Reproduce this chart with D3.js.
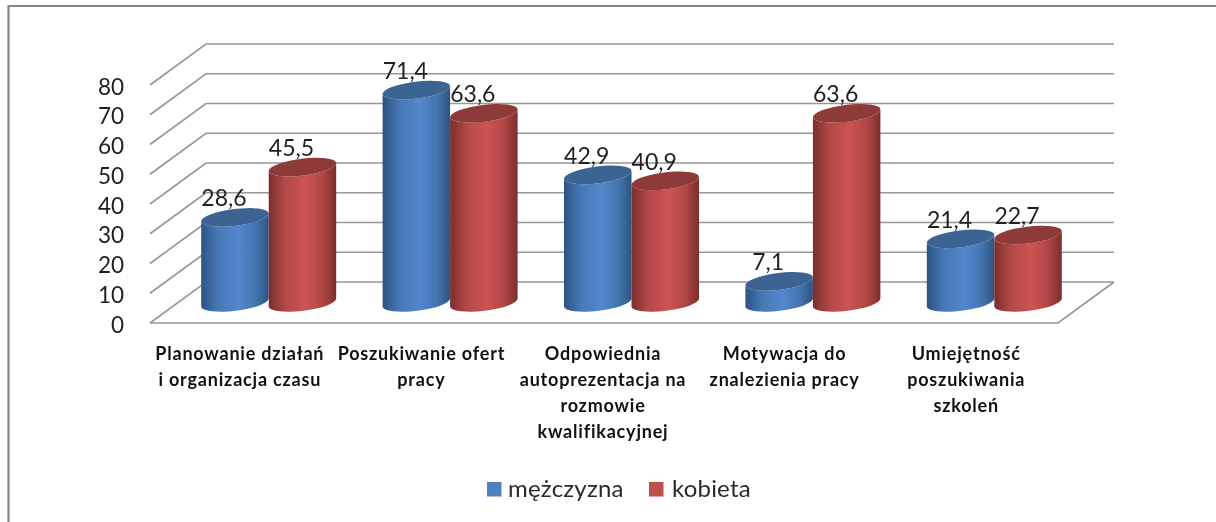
<!DOCTYPE html>
<html>
<head>
<meta charset="utf-8">
<script src="https://cdn.jsdelivr.net/npm/d3@7"></script>
<style>
html,body{margin:0;padding:0;background:#fff;overflow:hidden}
svg{display:block;font-family:Lato,"Open Sans",sans-serif;filter:blur(.45px)}
</style>
</head>
<body>
<div id="chart"></div>
<script>
var categories = ["Planowanie działań|i organizacja czasu", "Poszukiwanie ofert|pracy", "Odpowiednia|autoprezentacja na|rozmowie|kwalifikacyjnej", "Motywacja do|znalezienia pracy", "Umiejętność|poszukiwania|szkoleń"];
var seriesNames = ["mężczyzna", "kobieta"];
var men = [28.6, 71.4, 42.9, 7.1, 21.4];
var women = [45.5, 63.6, 40.9, 63.6, 22.7];
var yTicks = [0, 10, 20, 30, 40, 50, 60, 70, 80];

var width = 1216, height = 522;
var depthX = 56, depthY = -41;//przesuniecie tylnej sciany
var frontLeft = 150, frontRight = 1058, rx = 34, ry = 8.4, tilt = -7;

var colors = {
    "mężczyzna": {edge: "#2c5482", mid: "#5388cc", top: "#3b6493", legend: "#4f81bd"},
    "kobieta": {edge: "#7b2e2c", mid: "#cc5452", top: "#8e3a38", legend: "#c0504d"}
};

var svg = d3.select("#chart").append("svg").attr("width", width).attr("height", height);

var defs = svg.append("defs");
seriesNames.forEach(function(name, i) {
    var g = defs.append("linearGradient").attr("id", "cyl" + i);
    g.append("stop").attr("offset", "0%").attr("stop-color", colors[name].edge);
    g.append("stop").attr("offset", "25%").attr("stop-color", d3.interpolateRgb(colors[name].edge, colors[name].mid)(.7));
    g.append("stop").attr("offset", "55%").attr("stop-color", colors[name].mid);
    g.append("stop").attr("offset", "80%").attr("stop-color", d3.interpolateRgb(colors[name].edge, colors[name].mid)(.65));
    g.append("stop").attr("offset", "100%").attr("stop-color", colors[name].edge);
});

// ramka
svg.append("path").attr("d", "M8.5 522V6H1216").attr("fill", "none").attr("stroke", "#868686").attr("stroke-width", 2.2);

var y = d3.scaleLinear().domain([0, 80]).range([323, 85]);
var xFront = d3.scaleBand().domain(categories).range([frontLeft, frontRight]);
var xMid = d3.scaleBand().domain(categories).range([178, 1085]);
var xSeries = d3.scaleBand().domain(seriesNames).range([0, 135]);

// siatka
var grid = svg.append("g").attr("fill", "none").attr("stroke", "#979797").attr("stroke-width", 1.7);
grid.selectAll("path").data(yTicks).enter().append("path")
    .attr("d", function(d) {
        return "M" + frontLeft + " " + y(d)
            + " L" + (frontLeft + depthX) + " " + (y(d) + depthY)
            + " L" + (frontRight + depthX) + " " + (y(d) + depthY);
    });
grid.append("path").attr("d", "M" + frontLeft + " " + y(0) + " L" + frontRight + " " + y(0) + " L" + (frontRight + depthX) + " " + (y(0) + depthY));

// os Y
var yAxis = svg.append("g").attr("transform", "translate(124,0)")
    .call(d3.axisLeft(y).tickValues(yTicks).tickSize(0).tickPadding(0));
yAxis.select(".domain").remove();
yAxis.selectAll("text").attr("font-family", "Lato").attr("font-size", 22.5).attr("fill", "#1f1f1f").attr("dy", "0.4em");

// cylindry stoja w polowie glebokosci
function barY(v) {
    return y(v) + depthY / 2;
}
function cylinder(cx, top, bottom) {
    var a = tilt * Math.PI / 180, dx = rx * Math.cos(a), dy = rx * Math.sin(a);
    return "M" + (cx - dx) + " " + (top - dy)
        + " L" + (cx - dx) + " " + (bottom - dy)
        + " A" + rx + " " + ry + " " + tilt + " 0 0 " + (cx + dx) + " " + (bottom + dy)
        + " L" + (cx + dx) + " " + (top + dy)
        + " A" + rx + " " + ry + " " + tilt + " 0 1 " + (cx - dx) + " " + (top - dy) + " Z";
}

var rows = categories.map(function(c, i) {
    return {category: c, values: [men[i], women[i]]};
});

var groups = svg.selectAll("g.category").data(rows).enter().append("g").attr("class", "category")
    .attr("transform", function(d) { return "translate(" + xMid(d.category) + ",0)"; });

var offset = (xMid.bandwidth() - 135) / 2;
var bars = groups.selectAll("g.bar").data(function(d) {
    return d.values.map(function(v, i) { return {name: seriesNames[i], index: i, value: v}; });
}).enter().append("g").attr("class", "bar");

bars.append("path")
    .attr("fill", function(d) { return "url(#cyl" + d.index + ")"; })
    .attr("d", function(d) {
        return cylinder(offset + xSeries(d.name) + xSeries.bandwidth() / 2, barY(d.value), barY(0));
    });
bars.append("ellipse")
    .attr("rx", rx).attr("ry", ry)
    .attr("fill", function(d) { return colors[d.name].top; })
    .attr("transform", function(d) {
        return "translate(" + (offset + xSeries(d.name) + xSeries.bandwidth() / 2) + "," + barY(d.value) + ") rotate(" + tilt + ")";
    });

// etykiety wartosci na wierzchu
groups.selectAll("text.value").data(function(d) {
    return d.values.map(function(v, i) { return {name: seriesNames[i], value: v}; });
}).enter().append("text").attr("class", "value")
    .attr("x", function(d) { return offset + xSeries(d.name) + xSeries.bandwidth() / 2 - 11; })
    .attr("y", function(d) { return barY(d.value) - 11; })
    .attr("text-anchor", "middle")
    .attr("font-size", 23)
    .attr("fill", "#1f1f1f")
    .text(function(d) { return String(d.value).replace(".", ","); });

// opisy kategorii
var catLabels = svg.selectAll("text.cat").data(categories).enter().append("text").attr("class", "cat")
    .attr("text-anchor", "middle")
    .attr("font-size", 18)
    .attr("font-weight", 700)
    .attr("letter-spacing", 0.8)
    .attr("fill", "#111");
catLabels.selectAll("tspan").data(function(d) {
    return d.split("|").map(function(line, i) { return {category: d, line: line, i: i}; });
}).enter().append("tspan")
    .attr("x", function(d) { return xFront(d.category) + xFront.bandwidth() / 2 - 1; })
    .attr("y", function(d) { return 360 + d.i * 26; })
    .text(function(d) { return d.line; });

// legenda
var legendX = d3.scaleOrdinal().domain(seriesNames).range([487, 649]);
var legend = svg.selectAll("g.legend").data(seriesNames).enter().append("g").attr("class", "legend")
    .attr("transform", function(d) { return "translate(" + legendX(d) + ",482)"; });
legend.append("rect").attr("width", 14.5).attr("height", 14.5)
    .attr("fill", function(d) { return colors[d].legend; });
legend.append("text").attr("x", function(d, i) { return i ? 23 : 21; }).attr("y", 15)
    .attr("font-size", 24).attr("letter-spacing", 0.2).attr("fill", "#2a2a2a")
    .text(function(d) { return d; });
</script>
</body>
</html>
